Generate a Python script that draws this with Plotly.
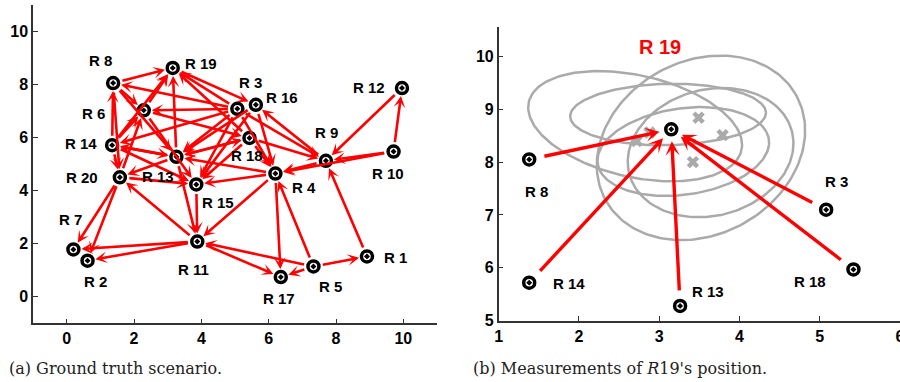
import numpy as np
import plotly.graph_objects as go

# ---------------- data: panel (a) ----------------
node_names = ["R1", "R2", "R3", "R4", "R5", "R6", "R7", "R8", "R9", "R10",
              "R11", "R12", "R13", "R14", "R15", "R16", "R17", "R18", "R19", "R20"]
node_x = [8.92, 0.62, 5.07, 6.20, 7.33, 2.29, 0.20, 1.38, 7.70, 9.71,
          3.88, 9.96, 3.26, 1.35, 3.85, 5.62, 6.36, 5.43, 3.15, 1.58]
node_y = [1.52, 1.36, 7.08, 4.64, 1.14, 7.02, 1.78, 8.05, 5.12, 5.47,
          2.08, 7.86, 5.27, 5.71, 4.23, 7.23, 0.74, 5.98, 8.62, 4.50]
label_text = ["R 1", "R 2", "R 3", "R 4", "R 5", "R 6", "R 7", "R 8", "R 9", "R 10",
              "R 11", "R 12", "R 13", "R 14", "R 15", "R 16", "R 17", "R 18", "R 19", "R 20"]
label_x = [9.76, 0.86, 5.45, 7.05, 7.83, 0.81, 0.11, 1.00, 7.71, 9.53,
           3.78, 8.99, 2.72, 0.42, 4.49, 6.40, 6.32, 5.37, 3.99, 0.47]
label_y = [1.49, 0.58, 8.07, 4.10, 0.39, 6.90, 2.91, 8.91, 6.17, 4.65,
           1.03, 7.88, 4.53, 5.77, 3.56, 7.50, -0.08, 5.31, 8.80, 4.50]

# directed links (source -> target)
edge_src = ["R1", "R5", "R5", "R5", "R5", "R11", "R4", "R4", "R15", "R13",
            "R11", "R11", "R11", "R20", "R20", "R7", "R20", "R4", "R10", "R9",
            "R4", "R18", "R16", "R3", "R10", "R12", "R10", "R9", "R3", "R18",
            "R8", "R3", "R8", "R8", "R14", "R8", "R14", "R14", "R6", "R13",
            "R3", "R18", "R19", "R3", "R3", "R6", "R3", "R16", "R3", "R16",
            "R18", "R18", "R13", "R13", "R14", "R13", "R14", "R6", "R20", "R14"]
edge_dst = ["R9", "R1", "R17", "R4", "R11", "R17", "R17", "R11", "R11", "R11",
            "R20", "R7", "R2", "R7", "R2", "R2", "R15", "R15", "R4", "R4",
            "R13", "R4", "R4", "R4", "R9", "R9", "R12", "R16", "R9", "R9",
            "R19", "R8", "R6", "R13", "R8", "R20", "R20", "R19", "R19", "R19",
            "R19", "R19", "R16", "R6", "R14", "R18", "R13", "R13", "R15", "R15",
            "R15", "R13", "R18", "R20", "R13", "R14", "R15", "R15", "R6", "R6"]

# ---------------- data: panel (b) ----------------
b_names = ["R8", "R14", "R13", "R18", "R3"]
b_x = [1.38, 1.38, 3.26, 5.42, 5.08]
b_y = [8.05, 5.72, 5.28, 5.97, 7.10]
b_label_text = ["R 8", "R 14", "R 13", "R 18", "R 3"]
b_label_x = [1.465, 1.88, 3.61, 4.88, 5.21]
b_label_y = [7.45, 5.70, 5.55, 5.74, 7.63]
target_x = [3.15]
target_y = [8.62]
est_x = [2.88, 2.72, 3.42, 3.79, 3.49]
est_y = [8.56, 8.40, 8.00, 8.51, 8.84]
# uncertainty ellipses: centre, semi-axes, orientation (deg)
ell_cx = [2.70, 3.11, 3.52, 3.64, 3.30]
ell_cy = [8.68, 8.90, 8.27, 8.18, 8.20]
ell_a = [1.42, 1.22, 1.78, 1.25, 1.10]
ell_b = [0.92, 0.58, 1.25, 1.00, 0.80]
ell_ang = [-27, 2, 74, 70, 20]

RED = "#ff0000"
GREY = "#aaaaaa"
FONT = "Liberation Sans"

fig = go.Figure()

# ---------- panel (a) ----------
pos = {n: (x, y) for n, x, y in zip(node_names, node_x, node_y)}
annotations = []
for s, d in zip(edge_src, edge_dst):
    sx, sy = pos[s]
    dx, dy = pos[d]
    annotations.append(dict(
        x=dx, y=dy, ax=sx, ay=sy, xref="x", yref="y", axref="x", ayref="y",
        showarrow=True, arrowhead=3, arrowsize=0.75, arrowwidth=2.6,
        arrowcolor=RED, standoff=8, startstandoff=8, text=""))

fig.add_trace(go.Scatter(
    x=node_x, y=node_y, mode="markers", xaxis="x", yaxis="y",
    marker=dict(symbol="circle-dot", size=11, color="white",
                line=dict(color="black", width=3.5)),
    hoverinfo="skip", showlegend=False))

for t, x, y in zip(label_text, label_x, label_y):
    annotations.append(dict(x=x, y=y, xref="x", yref="y", text=t,
                            showarrow=False,
                            font=dict(family=FONT, size=15, color="black", weight="bold")))

# ---------- panel (b) ----------
theta = np.linspace(0, 2 * np.pi, 200)
for cx, cy, a, b, ang in zip(ell_cx, ell_cy, ell_a, ell_b, ell_ang):
    r = np.deg2rad(ang)
    ex = cx + a * np.cos(theta) * np.cos(r) - b * np.sin(theta) * np.sin(r)
    ey = cy + a * np.cos(theta) * np.sin(r) + b * np.sin(theta) * np.cos(r)
    fig.add_trace(go.Scatter(x=ex, y=ey, mode="lines", xaxis="x2", yaxis="y2",
                             line=dict(color=GREY, width=2.5),
                             hoverinfo="skip", showlegend=False))

fig.add_trace(go.Scatter(
    x=est_x, y=est_y, mode="markers", xaxis="x2", yaxis="y2",
    marker=dict(symbol="x", size=11, color=GREY, line=dict(width=0)),
    hoverinfo="skip", showlegend=False))

for sx, sy in zip(b_x, b_y):
    annotations.append(dict(
        x=target_x[0], y=target_y[0], ax=sx, ay=sy,
        xref="x2", yref="y2", axref="x2", ayref="y2",
        showarrow=True, arrowhead=3, arrowsize=0.7, arrowwidth=3.4,
        arrowcolor=RED, standoff=12, startstandoff=14, text=""))

fig.add_trace(go.Scatter(
    x=b_x + target_x, y=b_y + target_y, mode="markers", xaxis="x2", yaxis="y2",
    marker=dict(symbol="circle-dot", size=11, color="white",
                line=dict(color="black", width=3.5)),
    hoverinfo="skip", showlegend=False))

for t, x, y in zip(b_label_text, b_label_x, b_label_y):
    annotations.append(dict(x=x, y=y, xref="x2", yref="y2", text=t,
                            showarrow=False,
                            font=dict(family=FONT, size=15, color="black", weight="bold")))
annotations.append(dict(x=3.01, y=10.18, xref="x2", yref="y2", text="R 19",
                        showarrow=False,
                        font=dict(family=FONT, size=20, color=RED, weight="bold")))

# captions
annotations.append(dict(x=7 / 900, y=1 - 368 / 382, xref="paper", yref="paper",
                        xanchor="left", yanchor="middle", showarrow=False,
                        text="(a) Ground truth scenario.",
                        font=dict(family="DejaVu Serif", size=16, color="#222")))
annotations.append(dict(x=471 / 900, y=1 - 368 / 382, xref="paper", yref="paper",
                        xanchor="left", yanchor="middle", showarrow=False,
                        text="(b) Measurements of <i>R</i>19's position.",
                        font=dict(family="DejaVu Serif", size=16, color="#222")))

axis_common = dict(showline=True, linecolor="#333", linewidth=1.5, ticks="inside",
                   ticklen=5, tickwidth=1.2, tickcolor="#333", showgrid=False,
                   zeroline=False, mirror=False, automargin=False,
                   tickfont=dict(family=FONT, size=16, color="black", weight="bold"))

fig.update_layout(
    width=900, height=382, margin=dict(l=0, r=0, t=0, b=0, autoexpand=False),
    paper_bgcolor="white", plot_bgcolor="white", showlegend=False,
    xaxis=dict(domain=[33 / 900, 437 / 900], range=[-1, 11],
               tickvals=[0, 2, 4, 6, 8, 10], anchor="y", **axis_common),
    yaxis=dict(domain=[1 - 323.3 / 382, 1 - 4.7 / 382], range=[-1, 11],
               tickvals=[0, 2, 4, 6, 8, 10], anchor="x", **axis_common),
    xaxis2=dict(domain=[498.7 / 900, 1.0], range=[1, 6],
                tickvals=[1, 2, 3, 4, 5, 6], anchor="y2",
                ticklabeloverflow="allow", **axis_common),
    yaxis2=dict(domain=[1 - 320.7 / 382, 1 - 27.3 / 382], range=[5, 10.55],
                tickvals=[5, 6, 7, 8, 9, 10], anchor="x2", **axis_common),
    annotations=annotations,
)

fig.write_html("out.html", config={"displayModeBar": False},
               post_script="document.body.style.margin='0';document.body.style.overflow='hidden';")
